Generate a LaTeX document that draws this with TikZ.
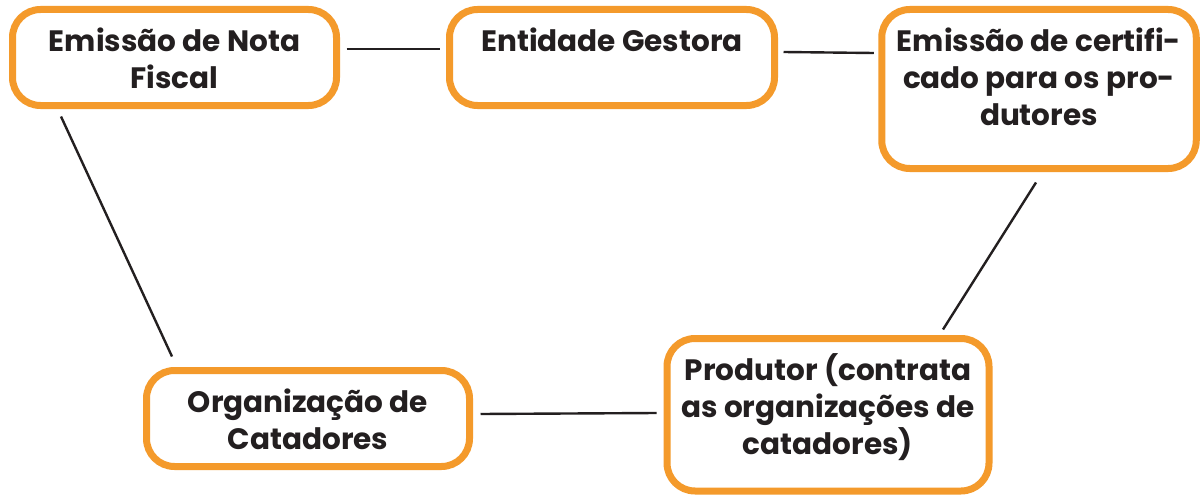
\documentclass[tikz,border=0pt]{standalone}
\usepackage{fontspec}
\setmainfont{Poppins}
\definecolor{orng}{HTML}{F49A2B}
\definecolor{ink}{HTML}{231F20}
\newcommand\boxtext[3]{\parbox[c][#2][t]{#1}{\centering\rule{0pt}{42pt}#3\par}}
\begin{document}
\begin{tikzpicture}[x=1pt,y=-1pt]
\tikzset{
  box/.style={draw=orng, line width=7pt, rounded corners=28pt, inner sep=0pt, fill=white,
    font=\bfseries\fontsize{29.5}{37}\selectfont, text=ink},
  conn/.style={draw=ink, line width=2.4pt}
}
\useasboundingbox[fill=white] (0,0) rectangle (1200,495);
\node[box] (b1) at (174.5,57.5) {\boxtext{324pt}{96pt}{Emissão de Nota\\Fiscal}};
\node[box] (b2) at (612,57.5) {\boxtext{325pt}{96pt}{Entidade Gestora}};
\node[box] (b3) at (1039,89) {\boxtext{314.5pt}{159pt}{Emissão de certifi-\\cado para os pro-\\dutores}};
\node[box] (b4) at (308,418.5) {\boxtext{323pt}{96pt}{Organização de\\Catadores}};
\node[box] (b5) at (828,414.75) {\boxtext{322pt}{152.5pt}{Produtor (contrata\\as organizações de\\catadores)}};
\draw[conn] ([xshift=6.5pt,yshift=8.5pt]b1.east) -- ([xshift=-6.5pt,yshift=8.5pt]b2.west);
\draw[conn] ([xshift=5.5pt,yshift=5.5pt]b2.east) -- ([xshift=-4.5pt,yshift=36pt]b3.west);
\draw[conn] ([xshift=-113.5pt,yshift=-7.5pt]b1.south) -- ([xshift=-136pt,yshift=10.5pt]b4.north);
\draw[conn] ([xshift=-3pt,yshift=-10.5pt]b3.south) -- ([xshift=115pt,yshift=5.5pt]b5.north);
\draw[conn] ([xshift=7.5pt,yshift=4.5pt]b4.east) -- ([xshift=-7pt,yshift=1.75pt]b5.west);
\end{tikzpicture}
\end{document}
